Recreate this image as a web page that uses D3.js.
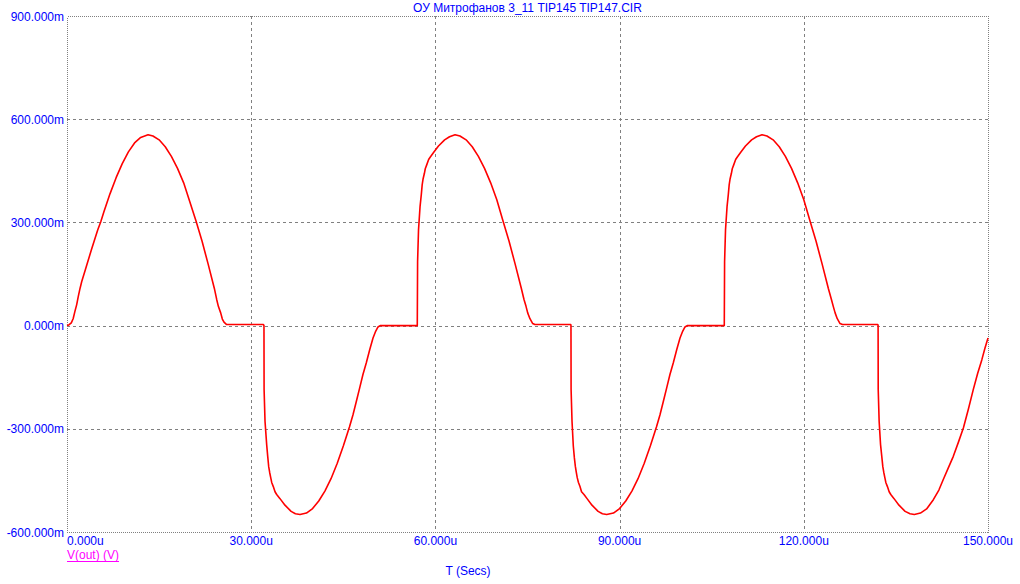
<!DOCTYPE html>
<html>
<head>
<meta charset="utf-8">
<script src="https://cdn.jsdelivr.net/npm/d3@7"></script>
<style>
  html, body { margin: 0; padding: 0; background: #ffffff; }
  svg { display: block; }
  text { font-family: "Liberation Sans", Arial, sans-serif; font-size: 12px; }
</style>
</head>
<body>
<svg id="chart" width="1020" height="584"></svg>
<script>
// ---- data (time in microseconds, value in volts) ----
const chartTitle = "ОУ Митрофанов 3_11 TIP145 TIP147.CIR";
const xTicks = [0, 30, 60, 90, 120, 150];
const xTickLabels = ["0.000u", "30.000u", "60.000u", "90.000u", "120.000u", "150.000u"];
const yTicks = [-0.6, -0.3, 0, 0.3, 0.6, 0.9];
const yTickLabels = ["-600.000m", "-300.000m", "0.000m", "300.000m", "600.000m", "900.000m"];
const xAxisTitle = "T (Secs)";
const seriesName = "V(out) (V)";

const posHalf1 = [[0,0],[0.3,0.002],[0.7,0.008],[1.0,0.02],[1.3,0.042],[1.58,0.061],[1.84,0.085],[2.12,0.108],[2.4,0.128],[3,0.163],[4,0.222],[5,0.278],[5.5,0.302],[6,0.33],[7,0.383],[8,0.43],[9,0.471],[10,0.505],[11,0.531],[12,0.547],[13.2,0.555],[14,0.551],[15,0.54],[16,0.52],[17,0.492],[18,0.457],[19,0.415],[20,0.36],[21,0.305],[22,0.245],[23,0.178],[24,0.108],[24.38,0.076],[24.65,0.056],[25.03,0.037],[25.3,0.019],[25.57,0.01],[26.0,0.003],[32.0,0.003]];
const negHalf1 = [[32.08,0],[32.1,-0.186],[32.25,-0.278],[32.52,-0.346],[32.69,-0.38],[32.85,-0.41],[33.01,-0.427],[33.18,-0.442],[33.34,-0.456],[33.6,-0.468],[33.88,-0.483],[34.15,-0.491],[34.69,-0.503],[35.5,-0.522],[36.5,-0.54],[37.2,-0.547],[37.95,-0.549],[39,-0.545],[40,-0.532],[41,-0.51],[42,-0.481],[43,-0.445],[44,-0.401],[45,-0.35],[46,-0.295],[46.58,-0.259],[47.1,-0.222],[47.67,-0.181],[48.2,-0.142],[48.75,-0.108],[49.3,-0.07],[49.84,-0.036],[50.27,-0.0165],[50.65,-0.004],[51.0,0],[57.05,0]];
const posHalf2 = [[57.05,0.003],[57.1,0.186],[57.25,0.278],[57.5,0.346],[57.7,0.38],[57.85,0.41],[58.0,0.427],[58.2,0.442],[58.35,0.456],[58.6,0.468],[58.9,0.483],[59.2,0.491],[59.7,0.503],[60.5,0.522],[61.5,0.54],[62.3,0.549],[63.2,0.555],[64,0.551],[65,0.54],[66,0.52],[67,0.492],[68,0.457],[69,0.415],[70,0.366],[71,0.305],[72,0.245],[73,0.178],[74,0.108],[74.43,0.076],[74.76,0.056],[75.03,0.037],[75.4,0.02],[75.85,0.006],[76.2,0.003],[82.05,0.003]];
const negHalf2 = [[82.08,0],[82.1,-0.186],[82.25,-0.278],[82.46,-0.35],[82.63,-0.384],[82.8,-0.41],[82.95,-0.427],[83.1,-0.442],[83.3,-0.456],[83.55,-0.468],[83.8,-0.483],[84.2,-0.491],[84.7,-0.503],[85.5,-0.522],[86.5,-0.54],[87.2,-0.547],[87.9,-0.549],[89,-0.545],[90,-0.532],[91,-0.51],[92,-0.481],[93,-0.445],[94,-0.401],[95,-0.35],[96,-0.295],[96.58,-0.259],[97.1,-0.222],[97.67,-0.181],[98.2,-0.142],[98.75,-0.108],[99.3,-0.07],[99.84,-0.036],[100.27,-0.0165],[100.65,-0.004],[101,0],[107.05,0]];
const posHalf3 = [[107.05,0.003],[107.1,0.186],[107.25,0.278],[107.5,0.346],[107.7,0.38],[107.85,0.41],[108,0.427],[108.2,0.442],[108.35,0.456],[108.6,0.468],[108.9,0.483],[109.2,0.491],[109.7,0.503],[110.5,0.522],[111.5,0.54],[112.3,0.549],[113.2,0.555],[114,0.551],[115,0.54],[116,0.52],[117,0.492],[118,0.457],[119,0.415],[120,0.366],[121,0.305],[122,0.245],[123,0.178],[124,0.108],[124.5,0.076],[124.8,0.056],[125.1,0.037],[125.45,0.02],[125.9,0.006],[126.3,0.003],[132.05,0.003]];
const negHalf3 = [[132.1,0],[132.12,-0.186],[132.27,-0.278],[132.5,-0.346],[132.7,-0.38],[132.87,-0.41],[133.03,-0.427],[133.2,-0.442],[133.36,-0.456],[133.62,-0.468],[133.9,-0.483],[134.17,-0.491],[134.7,-0.503],[135.5,-0.522],[136.5,-0.54],[137.3,-0.547],[138,-0.549],[139,-0.545],[140,-0.533],[141.1,-0.506],[142,-0.478],[142.7,-0.448],[143.5,-0.415],[144.35,-0.38],[145.2,-0.338],[146,-0.297],[146.8,-0.243],[147.6,-0.186],[148.3,-0.14],[149,-0.099],[149.5,-0.066],[150,-0.036]];

const vOut = [].concat(posHalf1, negHalf1, posHalf2, negHalf2, posHalf3, negHalf3);

// ---- layout ----
const svg = d3.select("#chart");
const plotL = 67, plotR = 988, plotT = 16, plotB = 532;
const blue = "#0000ff", gridColor = "#808080";

const x = d3.scaleLinear().domain([0, 150]).range([plotL, plotR]);
const y = d3.scaleLinear().domain([-0.6, 0.9]).range([plotB, plotT]);

svg.append("rect").attr("width", 1020).attr("height", 584).attr("fill", "#ffffff");

// grid
const grid = svg.append("g").attr("shape-rendering", "crispEdges");
grid.selectAll("line.vg").data(xTicks.slice(1, -1)).enter().append("line")
  .attr("x1", d => Math.round(x(d)) + 0.5).attr("x2", d => Math.round(x(d)) + 0.5)
  .attr("y1", plotT).attr("y2", plotB)
  .attr("stroke", gridColor).attr("stroke-width", 1).attr("stroke-dasharray", "3,3");
grid.selectAll("line.hg").data(yTicks.slice(1, -1)).enter().append("line")
  .attr("x1", plotL).attr("x2", plotR)
  .attr("y1", d => Math.round(y(d)) + 0.5).attr("y2", d => Math.round(y(d)) + 0.5)
  .attr("stroke", gridColor).attr("stroke-width", 1).attr("stroke-dasharray", "3,3");

// border
svg.append("rect")
  .attr("x", plotL + 0.5).attr("y", plotT + 0.5)
  .attr("width", plotR - plotL).attr("height", plotB - plotT)
  .attr("fill", "none").attr("stroke", gridColor).attr("stroke-width", 1)
  .attr("stroke-dasharray", "1,1").attr("shape-rendering", "crispEdges");

// y labels
svg.selectAll("text.ylab").data(yTicks).enter().append("text")
  .attr("x", 64).attr("y", d => y(d) + 4.5)
  .attr("text-anchor", "end").attr("fill", blue)
  .text((d, i) => yTickLabels[i]);

// x labels
svg.selectAll("text.xlab").data(xTicks).enter().append("text")
  .attr("x", d => x(d)).attr("y", 544.5)
  .attr("text-anchor", (d, i) => i === 0 ? "start" : "middle").attr("fill", blue)
  .text((d, i) => xTickLabels[i]);

// title
svg.append("text").attr("x", (plotL + plotR) / 2).attr("y", 12)
  .attr("text-anchor", "middle").attr("fill", blue).text(chartTitle);

// x axis title
svg.append("text").attr("x", 468).attr("y", 575)
  .attr("text-anchor", "middle").attr("fill", blue).text(xAxisTitle);

// legend
const leg = svg.append("text").attr("x", plotL).attr("y", 559)
  .attr("fill", "#ff00ff").text(seriesName);
const lw = leg.node().getComputedTextLength();
svg.append("line").attr("x1", plotL).attr("x2", plotL + lw)
  .attr("y1", 561.5).attr("y2", 561.5).attr("stroke", "#ff00ff").attr("stroke-width", 1)
  .attr("shape-rendering", "crispEdges");

// series
const line = d3.line().x(d => x(d[0])).y(d => y(d[1]));
svg.append("path").datum(vOut)
  .attr("d", line).attr("fill", "none")
  .attr("stroke", "#ff0000").attr("stroke-width", 1.6).attr("stroke-linejoin", "round");
</script>
</body>
</html>
